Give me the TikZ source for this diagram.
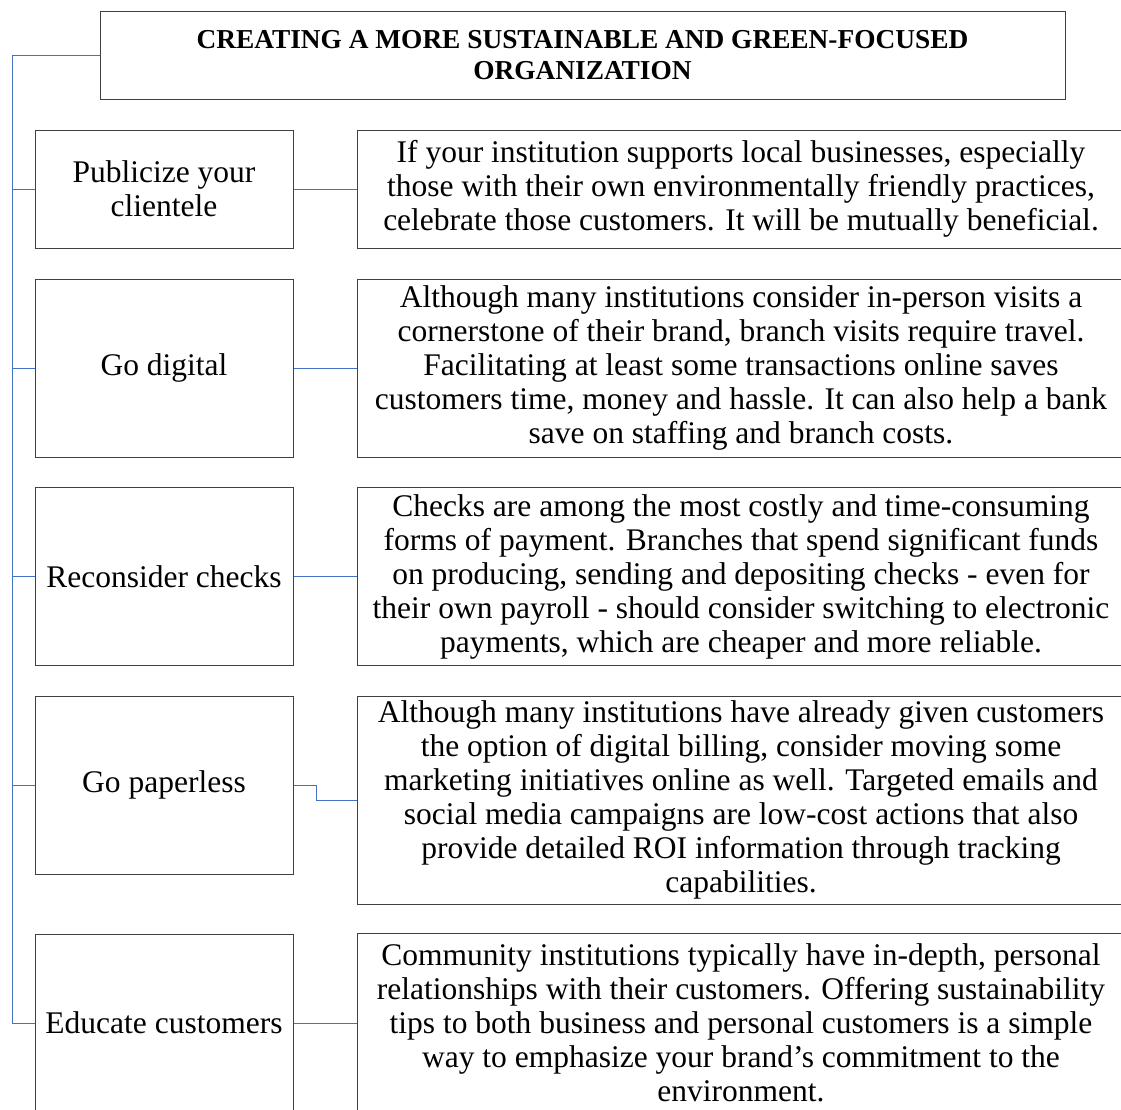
\documentclass[tikz,border=0pt]{standalone}
\usepackage{xcolor}
\usepackage{fontspec}
\setmainfont{Liberation Serif}
\usepackage{tikz}
\usetikzlibrary{calc}
\usetikzlibrary{positioning}
\definecolor{linkblue}{HTML}{4472C4}
\definecolor{boxgray}{HTML}{404040}
\tikzset{
    headbox/.style={draw=boxgray, line width=1pt, inner sep=0pt, align=center,
        minimum width=965pt, minimum height=88pt,
        font=\fontsize{27.35}{31}\selectfont\bfseries},
    leftbox/.style={draw=boxgray, line width=1pt, inner sep=0pt, align=center,
        minimum width=258pt, font=\fontsize{31.5}{34}\selectfont},
    rightbox/.style={draw=boxgray, line width=1pt, inner sep=0pt, align=center,
        minimum width=768pt, font=\fontsize{31.5}{34}\selectfont},
    link/.style={draw=linkblue, line width=1pt}
}

\begin{document}
\begin{tikzpicture}[x=1pt, y=-1pt]
    \useasboundingbox (0,0) rectangle (1121,1109);
    \node[headbox] (T) at (582.5,55) {CREATING A MORE SUSTAINABLE AND GREEN-FOCUSED\\ORGANIZATION};
    \node[leftbox, minimum height=118pt] (L1) at (164,189) {Publicize your\\clientele};
    \node[leftbox, minimum height=178pt] (L2) at (164,368) {Go digital};
    \node[leftbox, minimum height=178pt] (L3) at (164,576.5) {Reconsider checks};
    \node[leftbox, minimum height=178pt] (L4) at (164,785) {Go paperless};
    \node[leftbox, minimum height=178pt] (L5) at (164,1023) {Educate customers};
    \node[rightbox, minimum height=118pt] (R1) at (741,189) {If your institution supports local businesses, especially\\those with their own environmentally friendly practices,\\celebrate those customers. It will be mutually beneficial.};
    \node[rightbox, minimum height=178pt] (R2) at (741,368) {Although many institutions consider in-person visits a\\cornerstone of their brand, branch visits require travel.\\Facilitating at least some transactions online saves\\customers time, money and hassle. It can also help a bank\\save on staffing and branch costs.};
    \node[rightbox, minimum height=178pt] (R3) at (741,576.5) {Checks are among the most costly and time-consuming\\forms of payment. Branches that spend significant funds\\on producing, sending and depositing checks - even for\\their own payroll - should consider switching to electronic\\payments, which are cheaper and more reliable.};
    \node[rightbox, minimum height=208pt] (R4) at (741,800) {Although many institutions have already given customers\\the option of digital billing, consider moving some\\marketing initiatives online as well. Targeted emails and\\social media campaigns are low-cost actions that also\\provide detailed ROI information through tracking\\capabilities.};
    \node[rightbox, minimum height=180pt] (R5) at (741,1023) {Community institutions typically have in-depth, personal\\relationships with their customers. Offering sustainability\\tips to both business and personal customers is a simple\\way to emphasize your brand’s commitment to the\\environment.};
    \coordinate (trunk) at (12,55);
    \draw[link] (T.west) -- (trunk) |- (L5.west);
    \draw[link] (trunk |- L1.west) -- (L1.west);
    \draw[link] (trunk |- L2.west) -- (L2.west);
    \draw[link] (trunk |- L3.west) -- (L3.west);
    \draw[link] (trunk |- L4.west) -- (L4.west);
    \path [link] (L1) edge (R1);
    \path [link] (L2) edge (R2);
    \path [link] (L3) edge (R3);
    \path [link] (L5) edge (R5);
    \draw[link] (L4.east) -- ++(23,0) |- (R4.west);
\end{tikzpicture}
\end{document}
